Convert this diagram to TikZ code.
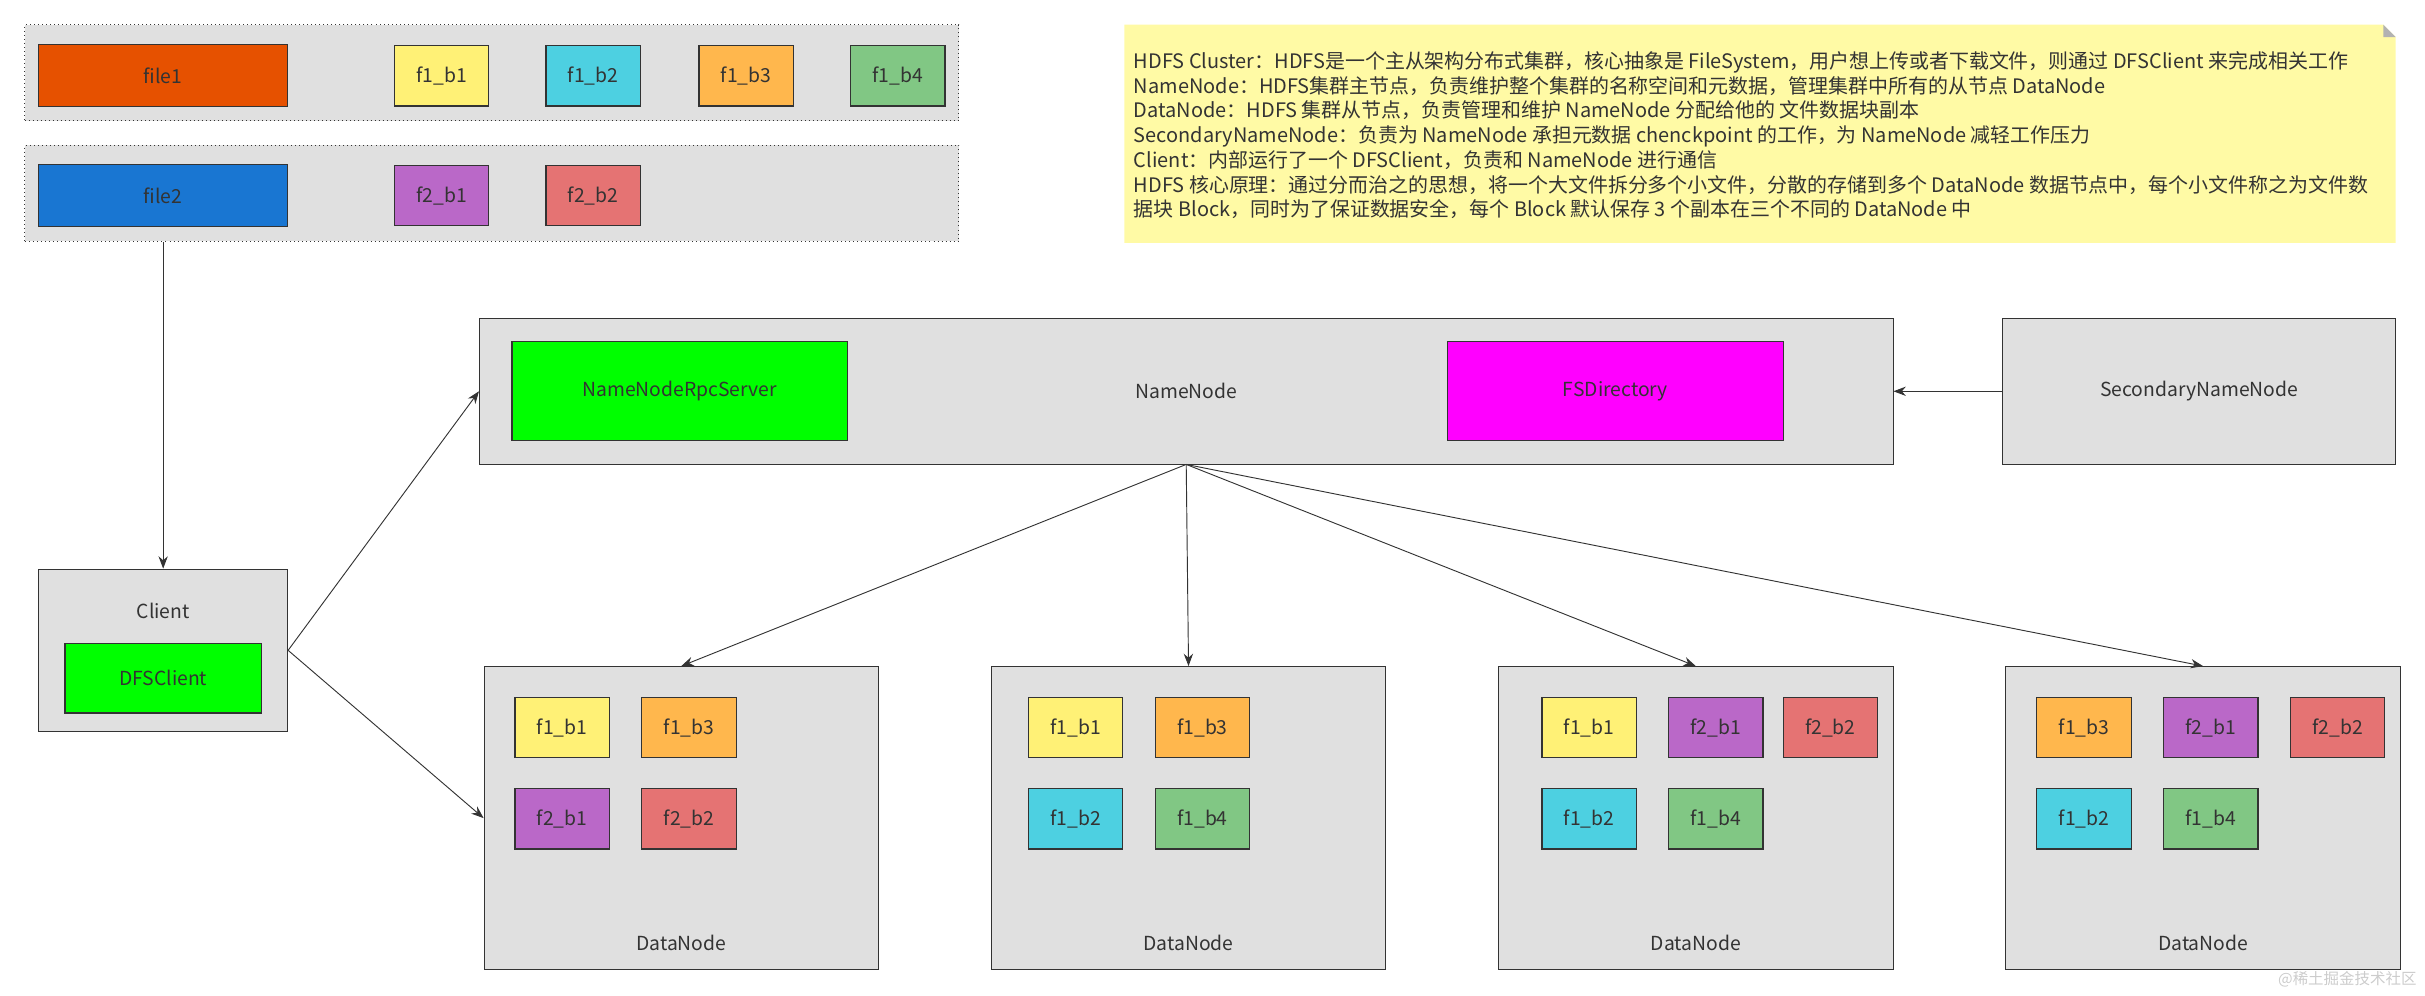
\documentclass[tikz,border=0pt]{standalone}
\usepackage{fontspec}
\setmainfont{Noto Sans CJK SC}
\usetikzlibrary{arrows.meta}
\definecolor{txt}{HTML}{333333}
\definecolor{grp}{HTML}{E0E0E0}
\definecolor{cfile1}{HTML}{E65100}
\definecolor{cfile2}{HTML}{1976D2}
\definecolor{cb1}{HTML}{FFF176}
\definecolor{cb2}{HTML}{4DD0E1}
\definecolor{cb3}{HTML}{FFB74D}
\definecolor{cb4}{HTML}{81C784}
\definecolor{cf1}{HTML}{BA68C8}
\definecolor{cf2}{HTML}{E57373}
\definecolor{notec}{HTML}{FFFAA5}
\definecolor{cgreen}{HTML}{00FF00}
\definecolor{cmag}{HTML}{FF00FF}
\begin{document}
\begin{tikzpicture}[x=1pt,y=-1pt,
  font=\fontsize{12.5}{15}\selectfont, text=txt,
  grpbox/.style={draw=txt, fill=grp, rectangle, inner sep=0pt, semithick},
  dotgrp/.style={grpbox, dotted, thick},
  blk/.style={draw=txt, thick, rectangle, minimum width=61pt, minimum height=39pt, inner sep=0pt},
  wide/.style={draw=txt, thick, rectangle, minimum width=161pt, minimum height=40pt, inner sep=0pt},
  big/.style={draw=txt, thick, rectangle, minimum width=217pt, minimum height=64pt, inner sep=0pt},
  dn/.style={grpbox, minimum width=255pt, minimum height=196pt},
  arr/.style={-{Stealth[length=8pt,width=6pt]}, draw=txt, semithick}
]
\useasboundingbox (0,0) rectangle (1568,644);

% file groups
\node (g1) [dotgrp, minimum width=604pt, minimum height=62pt] at (318,47) {};
\node (g2) [dotgrp, minimum width=604pt, minimum height=62pt] at (318,125) {};
\node (file1) [wide, fill=cfile1] at (105.5,49) {file1};
\node [blk, fill=cb1] at (285.5,49) {f1\_b1};
\node [blk, fill=cb2] at (383.5,49) {f1\_b2};
\node [blk, fill=cb3] at (482.5,49) {f1\_b3};
\node [blk, fill=cb4] at (580.5,49) {f1\_b4};
\node (file2) [wide, fill=cfile2] at (105.5,126.5) {file2};
\node [blk, fill=cf1] at (285.5,126.5) {f2\_b1};
\node [blk, fill=cf2] at (383.5,126.5) {f2\_b2};

% note
\fill[notec] (727,16) -- (1541,16) -- (1549,24) -- (1549,157) -- (727,157) -- cycle;
\fill[gray!60] (1541,16) -- (1549,24) -- (1541,24) -- cycle;
\node (note) [anchor=north west, align=left, inner sep=0pt, font=\fontsize{12.9}{16}\selectfont] at (733,33) {%
HDFS Cluster：HDFS是一个主从架构分布式集群，核心抽象是 FileSystem，用户想上传或者下载文件，则通过 DFSClient 来完成相关工作\\
NameNode：HDFS集群主节点，负责维护整个集群的名称空间和元数据，管理集群中所有的从节点 DataNode\\
DataNode：HDFS 集群从节点，负责管理和维护 NameNode 分配给他的 文件数据块副本\\
SecondaryNameNode：负责为 NameNode 承担元数据 chenckpoint 的工作，为 NameNode 减轻工作压力\\
Client：内部运行了一个 DFSClient，负责和 NameNode 进行通信\\
HDFS 核心原理：通过分而治之的思想，将一个大文件拆分多个小文件，分散的存储到多个 DataNode 数据节点中，每个小文件称之为文件数\\
据块 Block，同时为了保证数据安全，每个 Block 默认保存 3 个副本在三个不同的 DataNode 中};

% NameNode
\node (nn) [grpbox, minimum width=914pt, minimum height=94pt] at (767,253) {NameNode};
\node (rpc) [big, fill=cgreen] at (439.5,253) {NameNodeRpcServer};
\node (fsd) [big, fill=cmag] at (1044.5,253) {FSDirectory};
\node (snn) [grpbox, minimum width=254pt, minimum height=94pt] at (1422,253) {SecondaryNameNode};

% Client
\node (client) [grpbox, minimum width=161pt, minimum height=105pt] at (105.5,420.5) {};
\node [anchor=center] at (105.5,395) {Client};
\node (dfs) [draw=txt, thick, fill=cgreen, minimum width=127pt, minimum height=45pt, inner sep=0pt] at (105.5,438.5) {DFSClient};

% DataNodes
\node (dn1) [dn] at (440.5,529) {};
\node (dn2) [dn] at (768.5,529) {};
\node (dn3) [dn] at (1096.5,529) {};
\node (dn4) [dn] at (1424.5,529) {};
\foreach \x in {440.5,768.5,1096.5,1424.5}
  \node at (\x,610) {DataNode};

\node [blk, fill=cb1] at (363.5,470.5) {f1\_b1};
\node [blk, fill=cb3] at (445.5,470.5) {f1\_b3};
\node [blk, fill=cf1] at (363.5,529.5) {f2\_b1};
\node [blk, fill=cf2] at (445.5,529.5) {f2\_b2};

\node [blk, fill=cb1] at (695.5,470.5) {f1\_b1};
\node [blk, fill=cb3] at (777.5,470.5) {f1\_b3};
\node [blk, fill=cb2] at (695.5,529.5) {f1\_b2};
\node [blk, fill=cb4] at (777.5,529.5) {f1\_b4};

\node [blk, fill=cb1] at (1027.5,470.5) {f1\_b1};
\node [blk, fill=cf1] at (1109.5,470.5) {f2\_b1};
\node [blk, fill=cf2] at (1183.5,470.5) {f2\_b2};
\node [blk, fill=cb2] at (1027.5,529.5) {f1\_b2};
\node [blk, fill=cb4] at (1109.5,529.5) {f1\_b4};

\node [blk, fill=cb3] at (1347.5,470.5) {f1\_b3};
\node [blk, fill=cf1] at (1429.5,470.5) {f2\_b1};
\node [blk, fill=cf2] at (1511.5,470.5) {f2\_b2};
\node [blk, fill=cb2] at (1347.5,529.5) {f1\_b2};
\node [blk, fill=cb4] at (1429.5,529.5) {f1\_b4};

% connectors
\draw [arr] (g2.south -| file2) -- (client);
\draw [arr] (client.east) -- (nn.west);
\draw [arr] (client.east) -- (dn1.west);
\draw [arr] (snn.west) -- (nn.east);
\draw [arr] (nn.south) -- (dn1.north);
\draw [arr] (nn.south) -- (dn2.north);
\draw [arr] (nn.south) -- (dn3.north);
\draw [arr] (nn.south) -- (dn4.north);

\node (wm) [anchor=south east, text=gray!40, font=\fontsize{10}{12}\selectfont] at (1566,642) {@稀土掘金技术社区};
\end{tikzpicture}
\end{document}
